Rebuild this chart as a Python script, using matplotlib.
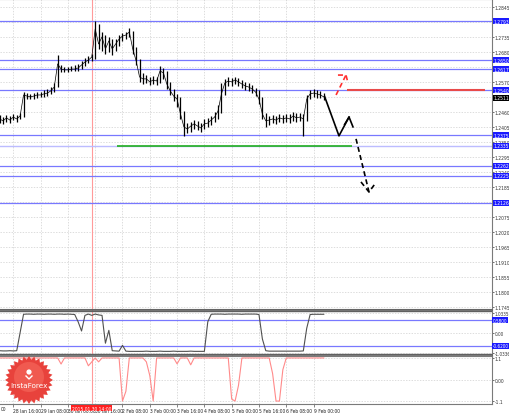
import matplotlib
matplotlib.use('Agg')
import matplotlib.pyplot as plt
import matplotlib.transforms as mtransforms
from matplotlib.patches import Polygon
from matplotlib import font_manager
import numpy as np

# ---------------- data ----------------
bar_hours = list(range(8, 200, 2))  # trading hours since 28 Jan 00:00, 2h bars

close = [1.2434, 1.2427, 1.2438, 1.2430, 1.2441, 1.2434, 1.2445, 1.2522, 1.2518, 1.2515,
         1.2518, 1.2522, 1.2522, 1.2526, 1.2529, 1.2537, 1.2551, 1.2636, 1.2617, 1.2614,
         1.2614, 1.2617, 1.2617, 1.2621, 1.2632, 1.2643, 1.2650, 1.2661, 1.2764, 1.2709,
         1.2735, 1.2691, 1.2720, 1.2691, 1.2709, 1.2727, 1.2738, 1.2742, 1.2753, 1.2691,
         1.2647, 1.2588, 1.2581, 1.2581, 1.2570, 1.2577, 1.2573, 1.2610, 1.2603, 1.2562,
         1.2537, 1.2518, 1.2507, 1.2452, 1.2405, 1.2397, 1.2408, 1.2416, 1.2408, 1.2401,
         1.2416, 1.2419, 1.2430, 1.2441, 1.2463, 1.2526, 1.2566, 1.2573, 1.2570, 1.2577,
         1.2570, 1.2562, 1.2555, 1.2551, 1.2544, 1.2533, 1.2507, 1.2452, 1.2427, 1.2430,
         1.2434, 1.2430, 1.2438, 1.2434, 1.2438, 1.2434, 1.2445, 1.2438, 1.2441, 1.2434,
         1.2507, 1.2526, 1.2529, 1.2526, 1.2522, 1.2515]

high = [1.2449, 1.2441, 1.2449, 1.2445, 1.2452, 1.2449, 1.2456, 1.2533, 1.2529, 1.2526,
        1.2529, 1.2533, 1.2533, 1.2540, 1.2544, 1.2551, 1.2566, 1.2669, 1.2632, 1.2625,
        1.2625, 1.2628, 1.2632, 1.2636, 1.2647, 1.2658, 1.2665, 1.2672, 1.2793, 1.2782,
        1.2753, 1.2742, 1.2735, 1.2727, 1.2727, 1.2742, 1.2749, 1.2753, 1.2768, 1.2757,
        1.2698, 1.2654, 1.2603, 1.2595, 1.2588, 1.2592, 1.2588, 1.2628, 1.2621, 1.2610,
        1.2570, 1.2544, 1.2526, 1.2515, 1.2463, 1.2419, 1.2423, 1.2430, 1.2427, 1.2419,
        1.2434, 1.2438, 1.2445, 1.2460, 1.2485, 1.2566, 1.2581, 1.2588, 1.2584, 1.2588,
        1.2584, 1.2577, 1.2570, 1.2566, 1.2559, 1.2548, 1.2540, 1.2515, 1.2456, 1.2445,
        1.2449, 1.2445, 1.2452, 1.2449, 1.2452, 1.2452, 1.2460, 1.2456, 1.2456, 1.2452,
        1.2522, 1.2540, 1.2544, 1.2540, 1.2537, 1.2529]

low = [1.2419, 1.2416, 1.2423, 1.2419, 1.2430, 1.2423, 1.2434, 1.2441, 1.2507, 1.2507,
       1.2507, 1.2511, 1.2515, 1.2515, 1.2518, 1.2526, 1.2533, 1.2551, 1.2606, 1.2606,
       1.2606, 1.2610, 1.2610, 1.2610, 1.2617, 1.2628, 1.2639, 1.2647, 1.2654, 1.2691,
       1.2683, 1.2672, 1.2680, 1.2669, 1.2683, 1.2702, 1.2720, 1.2727, 1.2735, 1.2672,
       1.2632, 1.2570, 1.2562, 1.2566, 1.2559, 1.2562, 1.2559, 1.2566, 1.2581, 1.2544,
       1.2522, 1.2500, 1.2478, 1.2434, 1.2372, 1.2383, 1.2386, 1.2397, 1.2394, 1.2386,
       1.2397, 1.2405, 1.2412, 1.2423, 1.2434, 1.2456, 1.2522, 1.2555, 1.2555, 1.2562,
       1.2555, 1.2548, 1.2540, 1.2537, 1.2529, 1.2518, 1.2489, 1.2434, 1.2405, 1.2412,
       1.2419, 1.2416, 1.2423, 1.2419, 1.2423, 1.2419, 1.2427, 1.2423, 1.2427, 1.2372,
       1.2427, 1.2507, 1.2515, 1.2511, 1.2511, 1.2504]

ind1 = [-0.85, -0.86, -0.86, -0.85, -0.86, -0.85, 0.00, 0.85, 0.86, 0.86,
        0.85, 0.86, 0.86, 0.85, 0.86, 0.86, 0.85, 0.86, 0.86, 0.85,
        0.86, 0.85, 0.84, 0.50, 0.07, 0.80, 0.86, 0.80, 0.86, 0.82,
        0.80, -0.50, 0.10, -0.85, -0.86, -0.87, -0.60, -0.87, -0.88, -0.88,
        -0.88, -0.88, -0.88, -0.87, -0.88, -0.88, -0.88, -0.87, -0.88, -0.88,
        -0.88, -0.87, -0.88, -0.88, -0.88, -0.88, -0.87, -0.88, -0.88, -0.88,
        -0.88, 0.50, 0.85, 0.86, 0.86, 0.86, 0.85, 0.86, 0.86, 0.86,
        0.86, 0.85, 0.86, 0.86, 0.86, 0.86, 0.84, -0.30, -0.85, -0.87,
        -0.87, -0.87, -0.87, -0.87, -0.87, -0.87, -0.87, -0.87, -0.87, -0.86,
        0.20, 0.84, 0.85, 0.85, 0.85, 0.85]

ind2 = [1.10, 1.10, 1.10, 1.10, 1.10, 1.10, 1.10, 1.10, 1.10, 1.10,
        1.10, 1.10, 1.10, 1.10, 1.10, 1.10, 1.10, 1.10, 0.79, 1.10,
        1.10, 1.10, 1.10, 1.10, 1.10, 1.10, 0.70, 0.90, 1.10, 0.90,
        1.10, 1.10, 1.10, 1.10, 1.10, 1.10, -1.10, -0.60, 1.10, 1.10,
        1.10, 1.10, 1.10, 0.90, 0.20, -1.10, 1.10, 1.10, 1.10, 1.10,
        1.10, 1.10, 0.80, 1.10, 1.10, 1.10, 0.75, 1.10, 1.10, 1.10,
        1.10, 1.10, 1.10, 1.10, 1.10, 1.10, 1.10, 1.10, -1.00, -1.10,
        -0.30, 1.10, 1.10, 1.10, 1.10, 1.10, 1.10, 1.10, 1.10, 1.10,
        0.30, -1.10, -1.10, 0.50, 1.10, 1.10, 1.10, 1.10, 1.10, 1.10,
        1.10, 1.10, 1.10, 1.10, 1.10, 1.10]

price_ticks = [1.2845, 1.2790, 1.2735, 1.2680, 1.2625, 1.2570, 1.2515, 1.2460, 1.2405,
               1.2350, 1.2295, 1.2240, 1.2185, 1.2130, 1.2075, 1.2020, 1.1965, 1.1910,
               1.1855, 1.1800, 1.1745]
# tick labels hidden behind level boxes in the reference are left blank
price_tick_labels = ['1.2845', '', '1.2735', '1.2680', '', '1.2570', '', '1.2460', '1.2405',
                     '1.2350', '1.2295', '1.2240', '1.2185', '', '1.2075', '1.2020', '1.1965',
                     '1.1910', '1.1855', '1.1800', '1.1745']
level_lines = [1.2793, 1.2650, 1.2617, 1.2540, 1.2375, 1.2262, 1.2225, 1.2126]
level_labels = ['1.2793', '1.2650', '1.2617', '1.2540', '1.2375', '1.2262', '1.2225', '1.2126']
support_level = 1.2335
support_label = '1.2335'
support_span = [77, 214.5]
resist_level = 1.2540
resist_span = [211.5, 292.5]
current_price = 1.2511
current_label = '1.2511'

time_ticks = [16, 32, 48, 64, 80, 96, 112, 128, 144, 160, 176, 192]
time_labels = ['28 Jan 16:00', '29 Jan 08:00', '30 Jan 00:00', '30 Jan 16:00', '2 Feb 08:00',
               '3 Feb 00:00', '3 Feb 16:00', '4 Feb 08:00', '5 Feb 00:00', '5 Feb 16:00',
               '6 Feb 08:00', '9 Feb 00:00']
first_label = '00'  # visible tail of the cut-off "28 Jan 00:00"
cursor_hour = 62
cursor_label = '2015.01.30 14:00'

ind1_levels = [0.58, -0.62]
ind1_level_labels = ['0.5800', '-0.6200']
ind1_ticks = [0.92, 0.0, -0.95]
ind1_tick_labels = ['1.0335', '0.00', '-1.0336']
ind2_ticks = [1.1, 0.0, -1.1]
ind2_tick_labels = ['1.1', '0.00', '-1.1']

# forecast arrows (hours, price)
arrow_black_x = [198.5, 206.9, 212.8, 215.1]
arrow_black_y = [1.2516, 1.2372, 1.2441, 1.2405]
arrow_black_barb_x = [210.2, 212.8]
arrow_black_barb_y = [1.2414, 1.2441]
arrow_dash_x = [216.9, 224.5]
arrow_dash_y = [1.2361, 1.2166]
arrow_dash_barb_x = [219.8, 224.5, 228.0]
arrow_dash_barb_y = [1.2203, 1.2166, 1.2196]
arrow_red_x = [205.2, 211.0]
arrow_red_y = [1.2522, 1.2595]
arrow_red_barb_x = [206.3, 211.0, 212.2]
arrow_red_barb_y = [1.2595, 1.2595, 1.2566]

# ---------------- figure ----------------
condensed = any(f.name == 'DejaVu Sans' and str(f.stretch) in ('condensed', '400', 'semi-condensed')
                for f in font_manager.fontManager.ttflist)
plt.rcParams['font.family'] = ['DejaVu Sans']
if condensed:
    plt.rcParams['font.stretch'] = 'condensed'
    fs = 3.6
else:
    fs = 3.4

W, H = 510, 414
fig = plt.figure(figsize=(W / 100, H / 100), dpi=100)
fig.patch.set_facecolor('white')

plot_w = 492 / W
ax1 = fig.add_axes([0, 1 - 310 / H, plot_w, 310 / H])
ax2 = fig.add_axes([0, 1 - 356 / H, plot_w, 45 / H])
ax3 = fig.add_axes([0, 1 - 405 / H, plot_w, 48 / H])

xlim = (8.2, 296.6)
grid_kw = dict(color='#cfcfcf', linestyle=(0, (2, 2)), linewidth=0.5)

for ax in (ax1, ax2, ax3):
    ax.set_xlim(*xlim)
    ax.set_facecolor('white')
    ax.set_xticks(time_ticks)
    ax.grid(True, **grid_kw)
    ax.set_axisbelow(True)
    ax.yaxis.tick_right()
    ax.tick_params(axis='y', labelsize=fs, length=1.5, pad=0.6, colors='#333333', width=0.5)
    ax.tick_params(axis='x', length=2, width=0.5, colors='#555555')
    ax.spines['left'].set_visible(False)
    for s in ('right', 'top', 'bottom'):
        ax.spines[s].set_color('#7a7a7a')
        ax.spines[s].set_linewidth(0.8)
    ax.axvline(cursor_hour, color='#ff9a9a', lw=0.8, zorder=1)

ax1.tick_params(axis='x', labelbottom=False)
ax2.tick_params(axis='x', labelbottom=False)

# ---- price panel ----
ax1.set_ylim(1.1737, 1.2874)
ax1.set_yticks(price_ticks)
ax1.set_yticklabels(price_tick_labels)

for lv in level_lines:
    ax1.axhline(lv, color='#7878ff', lw=0.9, zorder=2)
ax1.axhline(support_level, color='#bcbcff', lw=1.0, zorder=2)
ax1.hlines(support_level, support_span[0], support_span[1], color='#1fae1f', lw=1.2, zorder=3)
ax1.hlines(resist_level, resist_span[0], resist_span[1], color='#e84a4a', lw=1.5, zorder=3)

ax1.vlines(bar_hours, low, high, color='black', lw=0.9, zorder=4)
ax1.plot(bar_hours, close, color='black', lw=0.5, zorder=4)

ax1.plot(arrow_black_x, arrow_black_y, color='black', lw=1.2, zorder=5)
ax1.plot(arrow_black_barb_x, arrow_black_barb_y, color='black', lw=1.2, zorder=5)
ax1.plot(arrow_dash_x, arrow_dash_y, color='black', lw=1.2, ls=(0, (3, 2)), zorder=5)
ax1.plot(arrow_dash_barb_x, arrow_dash_barb_y, color='black', lw=1.2, ls=(0, (3, 2)), zorder=5)
ax1.plot(arrow_red_x, arrow_red_y, color='#ff3030', lw=1.2, ls=(0, (3, 2)), zorder=5)
ax1.plot(arrow_red_barb_x, arrow_red_barb_y, color='#ff3030', lw=1.2, ls=(0, (3, 2)), zorder=5)

tr1 = mtransforms.blended_transform_factory(ax1.transAxes, ax1.transData)
box_kw = dict(boxstyle='square,pad=0.12', ec='none')
for lv, lab in zip(level_lines + [support_level], level_labels + [support_label]):
    ax1.text(1.004, lv, lab, transform=tr1, fontsize=fs, color='white', ha='left', va='center',
             bbox=dict(fc='#1a1aff', **box_kw), clip_on=False, zorder=10)
ax1.text(1.004, current_price, current_label, transform=tr1, fontsize=fs, color='white',
         ha='left', va='center', bbox=dict(fc='black', **box_kw), clip_on=False, zorder=10)

# ---- indicator 1 ----
ax2.set_ylim(-1.05, 1.05)
ax2.plot(bar_hours, ind1, color='#505050', lw=0.8, zorder=4)
for lv in ind1_levels:
    ax2.axhline(lv, color='#7878ff', lw=0.9, zorder=2)
ax2.axhline(1.0, color='#606060', lw=1.0, zorder=2)
ax2.axhline(-1.0, color='#606060', lw=1.0, zorder=2)
ax2.set_yticks(ind1_ticks)
ax2.set_yticklabels(ind1_tick_labels)
ax2.tick_params(axis='y', labelsize=fs * 0.92)
tr2 = mtransforms.blended_transform_factory(ax2.transAxes, ax2.transData)
for lv, lab in zip(ind1_levels, ind1_level_labels):
    ax2.text(1.002, lv, lab, transform=tr2, fontsize=fs * 0.92, color='white', ha='left', va='center',
             bbox=dict(fc='#1a1aff', **box_kw), clip_on=False, zorder=10)
for s in ('top', 'bottom'):
    ax2.spines[s].set_color('#606060')
    ax2.spines[s].set_linewidth(1.2)

# ---- indicator 2 ----
ax3.set_ylim(-1.25, 1.2)
ax3.plot(bar_hours, ind2, color='#ff8a8a', lw=0.8, zorder=4)
ax3.set_yticks(ind2_ticks)
ax3.set_yticklabels(ind2_tick_labels)
ax3.set_xticklabels(time_labels, fontsize=fs, ha='left', color='#222222')
ax3.tick_params(axis='x', pad=1)
xtr = mtransforms.blended_transform_factory(ax3.transData, ax3.transAxes)
ax3.text(8.8, -0.045, first_label, transform=xtr, fontsize=fs, ha='left', va='top',
         color='#222222', clip_on=False)
ax3.text(cursor_hour, -0.035, cursor_label, transform=xtr,
         fontsize=fs, ha='center', va='top', color='white', clip_on=False, zorder=20,
         bbox=dict(boxstyle='square,pad=0.12', fc='#ff2020', ec='none'))

# ---- logo ----
ov = fig.add_axes([0, 0, 1, 1], facecolor='none')
ov.set_xlim(0, W)
ov.set_ylim(H, 0)
ov.axis('off')
n_pts = 28
ang = np.linspace(0, 2 * np.pi, 2 * n_pts, endpoint=False)
rad = np.where(np.arange(2 * n_pts) % 2 == 0, 24, 20.5)
cx, cy = 29, 381
star = np.column_stack([cx + rad * np.cos(ang), cy + rad * np.sin(ang)])
ov.add_patch(Polygon(star, closed=True, fc='#e8423c', ec='none', zorder=30))
ov.add_patch(plt.Circle((cx, cy - 3), 15, fc='#f05a50', ec='none', zorder=30.5))
ov.text(cx, cy + 5, 'InstaForex', fontsize=5.2, color='white', ha='center', va='center',
        zorder=31, fontstretch='normal')
ov.add_patch(plt.Circle((cx, cy - 8), 2.6, fc='white', ec='none', zorder=31))
ov.plot([cx - 3, cx, cx + 3], [cy - 4, cy - 1, cy - 4], color='white', lw=1.0, zorder=31)

fig.savefig('out.png', dpi=100, facecolor='white')
